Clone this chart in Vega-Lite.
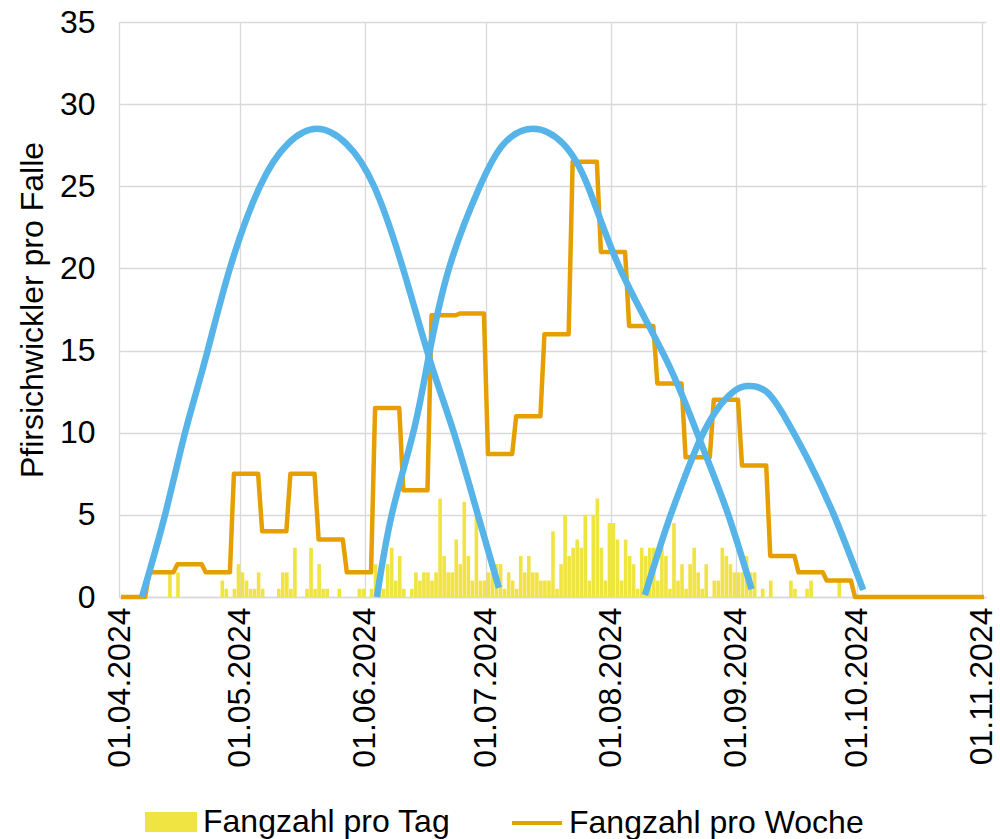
{
  "$schema": "https://vega.github.io/schema/vega-lite/v6.json",
  "width": 867,
  "height": 575,
  "autosize": {"type": "none"},
  "padding": {"left": 119, "top": 22, "right": 14, "bottom": 242},
  "config": {
    "font": "Liberation Sans",
    "view": {"stroke": null},
    "axis": {
      "labelFont": "Liberation Sans",
      "titleFont": "Liberation Sans",
      "labelColor": "#000000",
      "titleColor": "#000000",
      "labelFontSize": 32,
      "titleFontSize": 32,
      "titleFontWeight": "normal",
      "gridColor": "#D9D9D9",
      "gridWidth": 1.3,
      "domainColor": "#D9D9D9",
      "domainWidth": 1.5,
      "ticks": false
    },
    "legend": {"labelFont": "Liberation Sans", "labelFontSize": 32, "labelColor": "#000000", "labelLimit": 500}
  },
  "datasets": {
    "daily": [
      {"date": "2024-04-13", "count": 1.5},
      {"date": "2024-04-15", "count": 1.5},
      {"date": "2024-04-26", "count": 1.0},
      {"date": "2024-04-27", "count": 0.5},
      {"date": "2024-04-29", "count": 0.5},
      {"date": "2024-04-30", "count": 2.0},
      {"date": "2024-05-01", "count": 1.5},
      {"date": "2024-05-02", "count": 1.0},
      {"date": "2024-05-03", "count": 0.5},
      {"date": "2024-05-04", "count": 0.5},
      {"date": "2024-05-05", "count": 1.5},
      {"date": "2024-05-06", "count": 0.5},
      {"date": "2024-05-10", "count": 0.5},
      {"date": "2024-05-11", "count": 1.5},
      {"date": "2024-05-12", "count": 1.5},
      {"date": "2024-05-13", "count": 0.5},
      {"date": "2024-05-14", "count": 3.0},
      {"date": "2024-05-17", "count": 0.5},
      {"date": "2024-05-18", "count": 3.0},
      {"date": "2024-05-19", "count": 0.5},
      {"date": "2024-05-20", "count": 2.0},
      {"date": "2024-05-21", "count": 0.5},
      {"date": "2024-05-22", "count": 0.5},
      {"date": "2024-05-25", "count": 0.5},
      {"date": "2024-05-30", "count": 0.5},
      {"date": "2024-05-31", "count": 0.5},
      {"date": "2024-06-02", "count": 0.5},
      {"date": "2024-06-03", "count": 2.0},
      {"date": "2024-06-04", "count": 1.0},
      {"date": "2024-06-05", "count": 0.5},
      {"date": "2024-06-06", "count": 2.0},
      {"date": "2024-06-07", "count": 3.0},
      {"date": "2024-06-08", "count": 1.0},
      {"date": "2024-06-09", "count": 2.5},
      {"date": "2024-06-10", "count": 0.5},
      {"date": "2024-06-12", "count": 0.5},
      {"date": "2024-06-13", "count": 1.5},
      {"date": "2024-06-14", "count": 1.0},
      {"date": "2024-06-15", "count": 1.5},
      {"date": "2024-06-16", "count": 1.5},
      {"date": "2024-06-17", "count": 1.0},
      {"date": "2024-06-18", "count": 1.5},
      {"date": "2024-06-19", "count": 6.0},
      {"date": "2024-06-20", "count": 2.5},
      {"date": "2024-06-21", "count": 1.5},
      {"date": "2024-06-22", "count": 1.5},
      {"date": "2024-06-23", "count": 3.5},
      {"date": "2024-06-24", "count": 2.0},
      {"date": "2024-06-25", "count": 5.8},
      {"date": "2024-06-26", "count": 2.5},
      {"date": "2024-06-27", "count": 1.0},
      {"date": "2024-06-28", "count": 5.0},
      {"date": "2024-06-29", "count": 1.0},
      {"date": "2024-06-30", "count": 1.0},
      {"date": "2024-07-01", "count": 1.5},
      {"date": "2024-07-02", "count": 2.0},
      {"date": "2024-07-03", "count": 2.0},
      {"date": "2024-07-04", "count": 2.0},
      {"date": "2024-07-05", "count": 0.5},
      {"date": "2024-07-06", "count": 1.5},
      {"date": "2024-07-07", "count": 1.0},
      {"date": "2024-07-08", "count": 0.5},
      {"date": "2024-07-09", "count": 2.5},
      {"date": "2024-07-10", "count": 1.5},
      {"date": "2024-07-11", "count": 2.5},
      {"date": "2024-07-12", "count": 1.5},
      {"date": "2024-07-13", "count": 1.5},
      {"date": "2024-07-14", "count": 1.0},
      {"date": "2024-07-15", "count": 1.0},
      {"date": "2024-07-16", "count": 1.0},
      {"date": "2024-07-17", "count": 4.0},
      {"date": "2024-07-18", "count": 0.5},
      {"date": "2024-07-19", "count": 2.0},
      {"date": "2024-07-20", "count": 5.0},
      {"date": "2024-07-21", "count": 2.5},
      {"date": "2024-07-22", "count": 3.0},
      {"date": "2024-07-23", "count": 3.5},
      {"date": "2024-07-24", "count": 3.0},
      {"date": "2024-07-25", "count": 5.0},
      {"date": "2024-07-26", "count": 1.0},
      {"date": "2024-07-27", "count": 5.0},
      {"date": "2024-07-28", "count": 6.0},
      {"date": "2024-07-29", "count": 3.0},
      {"date": "2024-07-30", "count": 1.0},
      {"date": "2024-07-31", "count": 4.5},
      {"date": "2024-08-01", "count": 4.5},
      {"date": "2024-08-02", "count": 3.5},
      {"date": "2024-08-03", "count": 1.0},
      {"date": "2024-08-04", "count": 3.5},
      {"date": "2024-08-05", "count": 2.5},
      {"date": "2024-08-06", "count": 2.0},
      {"date": "2024-08-07", "count": 0.5},
      {"date": "2024-08-08", "count": 3.0},
      {"date": "2024-08-09", "count": 2.5},
      {"date": "2024-08-10", "count": 3.0},
      {"date": "2024-08-11", "count": 3.0},
      {"date": "2024-08-12", "count": 1.0},
      {"date": "2024-08-13", "count": 3.0},
      {"date": "2024-08-14", "count": 2.5},
      {"date": "2024-08-15", "count": 0.5},
      {"date": "2024-08-16", "count": 4.5},
      {"date": "2024-08-17", "count": 1.0},
      {"date": "2024-08-18", "count": 2.0},
      {"date": "2024-08-19", "count": 0.5},
      {"date": "2024-08-20", "count": 2.0},
      {"date": "2024-08-21", "count": 3.0},
      {"date": "2024-08-22", "count": 1.5},
      {"date": "2024-08-23", "count": 0.5},
      {"date": "2024-08-24", "count": 2.0},
      {"date": "2024-08-26", "count": 1.0},
      {"date": "2024-08-27", "count": 1.0},
      {"date": "2024-08-28", "count": 3.0},
      {"date": "2024-08-29", "count": 2.5},
      {"date": "2024-08-30", "count": 2.0},
      {"date": "2024-08-31", "count": 1.5},
      {"date": "2024-09-01", "count": 1.5},
      {"date": "2024-09-02", "count": 1.5},
      {"date": "2024-09-03", "count": 2.5},
      {"date": "2024-09-04", "count": 1.5},
      {"date": "2024-09-05", "count": 1.5},
      {"date": "2024-09-07", "count": 0.5},
      {"date": "2024-09-09", "count": 1.0},
      {"date": "2024-09-14", "count": 1.0},
      {"date": "2024-09-15", "count": 0.5},
      {"date": "2024-09-18", "count": 0.5},
      {"date": "2024-09-19", "count": 1.0},
      {"date": "2024-09-26", "count": 1.0}
    ],
    "weekly": [
      {"date": "2024-04-01T12:00:00Z", "count": 0},
      {"date": "2024-04-07T12:00:00Z", "count": 0},
      {"date": "2024-04-08T12:00:00Z", "count": 1.5},
      {"date": "2024-04-14T12:00:00Z", "count": 1.5},
      {"date": "2024-04-15T12:00:00Z", "count": 2.0},
      {"date": "2024-04-21T12:00:00Z", "count": 2.0},
      {"date": "2024-04-22T12:00:00Z", "count": 1.5},
      {"date": "2024-04-28T12:00:00Z", "count": 1.5},
      {"date": "2024-04-29T12:00:00Z", "count": 7.5},
      {"date": "2024-05-05T12:00:00Z", "count": 7.5},
      {"date": "2024-05-06T12:00:00Z", "count": 4.0},
      {"date": "2024-05-12T12:00:00Z", "count": 4.0},
      {"date": "2024-05-13T12:00:00Z", "count": 7.5},
      {"date": "2024-05-19T12:00:00Z", "count": 7.5},
      {"date": "2024-05-20T12:00:00Z", "count": 3.5},
      {"date": "2024-05-26T12:00:00Z", "count": 3.5},
      {"date": "2024-05-27T12:00:00Z", "count": 1.5},
      {"date": "2024-06-02T12:00:00Z", "count": 1.5},
      {"date": "2024-06-03T12:00:00Z", "count": 11.5},
      {"date": "2024-06-09T12:00:00Z", "count": 11.5},
      {"date": "2024-06-10T12:00:00Z", "count": 6.5},
      {"date": "2024-06-16T12:00:00Z", "count": 6.5},
      {"date": "2024-06-17T12:00:00Z", "count": 17.15},
      {"date": "2024-06-23T12:00:00Z", "count": 17.15},
      {"date": "2024-06-24T12:00:00Z", "count": 17.25},
      {"date": "2024-06-30T12:00:00Z", "count": 17.25},
      {"date": "2024-07-01T12:00:00Z", "count": 8.7},
      {"date": "2024-07-07T12:00:00Z", "count": 8.7},
      {"date": "2024-07-08T12:00:00Z", "count": 11.0},
      {"date": "2024-07-14T12:00:00Z", "count": 11.0},
      {"date": "2024-07-15T12:00:00Z", "count": 16.0},
      {"date": "2024-07-21T12:00:00Z", "count": 16.0},
      {"date": "2024-07-22T12:00:00Z", "count": 26.5},
      {"date": "2024-07-28T12:00:00Z", "count": 26.5},
      {"date": "2024-07-29T12:00:00Z", "count": 21.0},
      {"date": "2024-08-04T12:00:00Z", "count": 21.0},
      {"date": "2024-08-05T12:00:00Z", "count": 16.5},
      {"date": "2024-08-11T12:00:00Z", "count": 16.5},
      {"date": "2024-08-12T12:00:00Z", "count": 13.0},
      {"date": "2024-08-18T12:00:00Z", "count": 13.0},
      {"date": "2024-08-19T12:00:00Z", "count": 8.5},
      {"date": "2024-08-25T12:00:00Z", "count": 8.5},
      {"date": "2024-08-26T12:00:00Z", "count": 12.0},
      {"date": "2024-09-01T12:00:00Z", "count": 12.0},
      {"date": "2024-09-02T12:00:00Z", "count": 8.0},
      {"date": "2024-09-08T12:00:00Z", "count": 8.0},
      {"date": "2024-09-09T12:00:00Z", "count": 2.5},
      {"date": "2024-09-15T12:00:00Z", "count": 2.5},
      {"date": "2024-09-16T12:00:00Z", "count": 1.5},
      {"date": "2024-09-22T12:00:00Z", "count": 1.5},
      {"date": "2024-09-23T12:00:00Z", "count": 1.0},
      {"date": "2024-09-29T12:00:00Z", "count": 1.0},
      {"date": "2024-09-30T12:00:00Z", "count": 0},
      {"date": "2024-11-01T12:00:00Z", "count": 0}
    ],
    "flight": [
      {"flight": 1, "date": "2024-04-06T17:00:00Z", "value": 0},
      {"flight": 1, "date": "2024-04-12T10:00:00Z", "value": 5},
      {"flight": 1, "date": "2024-04-17T09:00:00Z", "value": 10},
      {"flight": 1, "date": "2024-04-22T08:00:00Z", "value": 14.4},
      {"flight": 1, "date": "2024-04-28T12:00:00Z", "value": 20},
      {"flight": 1, "date": "2024-05-05T23:00:00Z", "value": 25},
      {"flight": 1, "date": "2024-05-12T22:00:00Z", "value": 27.6},
      {"flight": 1, "date": "2024-05-20T02:00:00Z", "value": 28.5},
      {"flight": 1, "date": "2024-05-27T08:00:00Z", "value": 27.6},
      {"flight": 1, "date": "2024-06-03T06:00:00Z", "value": 25},
      {"flight": 1, "date": "2024-06-10T10:00:00Z", "value": 20},
      {"flight": 1, "date": "2024-06-17T03:00:00Z", "value": 14.4},
      {"flight": 1, "date": "2024-06-23T01:00:00Z", "value": 10},
      {"flight": 1, "date": "2024-06-29T00:00:00Z", "value": 5},
      {"flight": 1, "date": "2024-07-04T05:00:00Z", "value": 0.55},
      {"flight": 2, "date": "2024-06-03T23:00:00Z", "value": 0},
      {"flight": 2, "date": "2024-06-07T15:00:00Z", "value": 5},
      {"flight": 2, "date": "2024-06-12T23:00:00Z", "value": 10},
      {"flight": 2, "date": "2024-06-16T15:00:00Z", "value": 14.4},
      {"flight": 2, "date": "2024-06-21T20:00:00Z", "value": 20},
      {"flight": 2, "date": "2024-06-29T12:00:00Z", "value": 25},
      {"flight": 2, "date": "2024-07-05T11:00:00Z", "value": 27.6},
      {"flight": 2, "date": "2024-07-12T16:00:00Z", "value": 28.5},
      {"flight": 2, "date": "2024-07-20T02:00:00Z", "value": 27.6},
      {"flight": 2, "date": "2024-07-26T07:00:00Z", "value": 25},
      {"flight": 2, "date": "2024-08-03T05:00:00Z", "value": 20},
      {"flight": 2, "date": "2024-08-14T19:00:00Z", "value": 14.4},
      {"flight": 2, "date": "2024-08-23T01:00:00Z", "value": 9.55},
      {"flight": 2, "date": "2024-08-29T16:00:00Z", "value": 5.3},
      {"flight": 2, "date": "2024-09-04T21:00:00Z", "value": 0.47},
      {"flight": 3, "date": "2024-08-09T10:00:00Z", "value": 0.12},
      {"flight": 3, "date": "2024-08-14T19:00:00Z", "value": 4.28},
      {"flight": 3, "date": "2024-08-19T08:00:00Z", "value": 7.32},
      {"flight": 3, "date": "2024-08-23T01:00:00Z", "value": 9.55},
      {"flight": 3, "date": "2024-08-27T05:00:00Z", "value": 11.38},
      {"flight": 3, "date": "2024-08-31T08:00:00Z", "value": 12.49},
      {"flight": 3, "date": "2024-09-03T15:00:00Z", "value": 12.84},
      {"flight": 3, "date": "2024-09-08T14:00:00Z", "value": 12.49},
      {"flight": 3, "date": "2024-09-13T13:00:00Z", "value": 10.77},
      {"flight": 3, "date": "2024-09-18T12:00:00Z", "value": 8.54},
      {"flight": 3, "date": "2024-09-25T03:00:00Z", "value": 5.09},
      {"flight": 3, "date": "2024-10-02T13:00:00Z", "value": 0.43}
    ]
  },
  "layer": [
    {
      "data": {"name": "daily"},
      "mark": {"type": "bar", "binSpacing": 0.4},
      "encoding": {
        "x": {
          "field": "date",
          "type": "temporal",
          "timeUnit": "utcyearmonthdate",
          "title": null,
          "scale": {
            "type": "utc",
            "domain": [
              {"year": 2024, "month": 4, "date": 1, "utc": true},
              {"year": 2024, "month": 11, "date": 2, "utc": true}
            ]
          },
          "axis": {
            "title": null,
            "format": "%d.%m.%Y",
            "labelAngle": -90,
            "labelPadding": 10,
            "grid": true,
            "labelOverlap": false,
            "values": [
              {"year": 2024, "month": 4, "date": 1, "utc": true},
              {"year": 2024, "month": 5, "date": 1, "utc": true},
              {"year": 2024, "month": 6, "date": 1, "utc": true},
              {"year": 2024, "month": 7, "date": 1, "utc": true},
              {"year": 2024, "month": 8, "date": 1, "utc": true},
              {"year": 2024, "month": 9, "date": 1, "utc": true},
              {"year": 2024, "month": 10, "date": 1, "utc": true},
              {"year": 2024, "month": 11, "date": 1, "utc": true}
            ]
          }
        },
        "y": {
          "field": "count",
          "type": "quantitative",
          "title": "Pfirsichwickler pro Falle",
          "scale": {"domain": [0, 35], "nice": false},
          "axis": {
            "title": "Pfirsichwickler pro Falle",
            "values": [0, 5, 10, 15, 20, 25, 30, 35],
            "domain": false,
            "labelPadding": 24,
            "titlePadding": 10,
            "grid": true
          }
        },
        "fill": {
          "datum": "Fangzahl pro Tag",
          "scale": {"range": ["#F0E442"]},
          "legend": {
            "title": null,
            "orient": "none",
            "legendX": 26,
            "legendY": 774,
            "symbolType": "M-1,-0.385H1V0.385H-1Z",
            "symbolSize": 2704,
            "symbolStrokeWidth": 0,
            "labelOffset": 6
          }
        }
      }
    },
    {
      "data": {"name": "weekly"},
      "mark": {"type": "line", "strokeWidth": 4.5, "strokeJoin": "round"},
      "encoding": {
        "x": {"field": "date", "type": "temporal", "title": null, "scale": {"type": "utc"}},
        "y": {"field": "count", "type": "quantitative", "title": "Pfirsichwickler pro Falle"},
        "stroke": {
          "datum": "Fangzahl pro Woche",
          "scale": {"range": ["#E69F00"]},
          "legend": {
            "title": null,
            "orient": "none",
            "legendX": 391,
            "legendY": 774,
            "symbolType": "stroke",
            "symbolSize": 2500,
            "symbolStrokeWidth": 4,
            "labelOffset": 5
          }
        }
      }
    },
    {
      "data": {"name": "flight"},
      "mark": {"type": "line", "strokeWidth": 6.5, "color": "#56B4E9", "interpolate": "natural"},
      "encoding": {
        "x": {"field": "date", "type": "temporal", "title": null, "scale": {"type": "utc"}},
        "y": {"field": "value", "type": "quantitative", "title": "Pfirsichwickler pro Falle"},
        "detail": {"field": "flight", "type": "nominal"}
      }
    }
  ]
}
